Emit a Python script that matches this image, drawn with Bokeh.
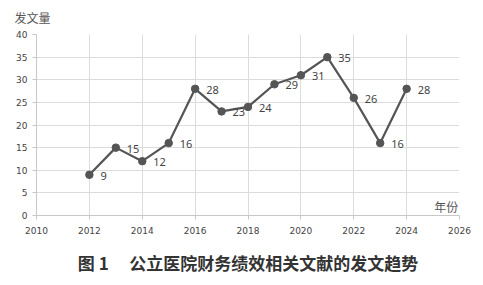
from bokeh.plotting import figure
from bokeh.models import Range1d, SingleIntervalTicker, Label, ColumnDataSource, Title
from bokeh.core.properties import value
from bokeh.embed import file_html
from bokeh.resources import INLINE

years = [2012, 2013, 2014, 2015, 2016, 2017, 2018, 2019, 2020, 2021, 2022, 2023, 2024]
counts = [9, 15, 12, 16, 28, 23, 24, 29, 31, 35, 26, 16, 28]
labels = [str(c) for c in counts]
y_title = "发文量"
x_title = "年份"
fig_title = "图 1\u3000\u2009公立医院财务绩效相关文献的发文趋势"

src = ColumnDataSource(dict(x=years, y=counts, t=labels))

p = figure(width=483, height=285, frame_width=423, frame_height=181,
           min_border_left=36, min_border_right=24, min_border_top=34, min_border_bottom=70,
           x_range=Range1d(2010, 2026), y_range=Range1d(0, 40),
           output_backend="svg", toolbar_location=None, tools="")
p.outline_line_color = None
p.background_fill_color = "white"
p.border_fill_color = "white"

p.xaxis.ticker = SingleIntervalTicker(interval=2)
p.yaxis.ticker = SingleIntervalTicker(interval=5)
for ax in (p.xaxis[0], p.yaxis[0]):
    ax.axis_line_color = "#c8c8c8"
    ax.major_tick_line_color = "#c8c8c8"
    ax.major_tick_out = 4
    ax.major_tick_in = 0
    ax.minor_tick_line_color = None
    ax.major_label_text_font = "DejaVu Sans"
    ax.major_label_text_font_size = "9px"
    ax.major_label_text_color = "#444444"
p.xaxis.major_label_standoff = 7
p.yaxis.major_label_standoff = 5
p.xgrid.grid_line_color = "#dcdcdc"
p.ygrid.grid_line_color = "#dcdcdc"

p.line("x", "y", source=src, line_color="#555555", line_width=2.2)
p.scatter("x", "y", source=src, size=7.5, fill_color="#555555", line_color="#555555")
p.text("x", "y", text="t", source=src, x_offset=11, y_offset=1,
       text_font=value("Noto Sans"), text_font_size="11px", text_color="#444444",
       text_baseline="middle", text_align="left")

p.add_layout(Label(x=2025.95, y=2.0, text=x_title, text_font="Noto Sans CJK SC",
                   text_font_size="12px", text_color="#555555", text_baseline="middle",
                   text_align="right"))

spacer = Title(text=" ", standoff=0, text_font_size="4px")
p.add_layout(spacer, "above")

top = Title(text=y_title, align="left", offset=-22, standoff=4,
            text_font="Noto Sans CJK SC", text_font_size="12px",
            text_color="#555555", text_font_style="normal")
p.add_layout(top, "above")

bottom = Title(text=fig_title, align="center", offset=-9, standoff=22,
               text_font="Noto Sans CJK SC", text_font_size="17px",
               text_color="#333333", text_font_style="bold")
p.add_layout(bottom, "below")

open("out.html", "w").write(file_html(p, INLINE))
